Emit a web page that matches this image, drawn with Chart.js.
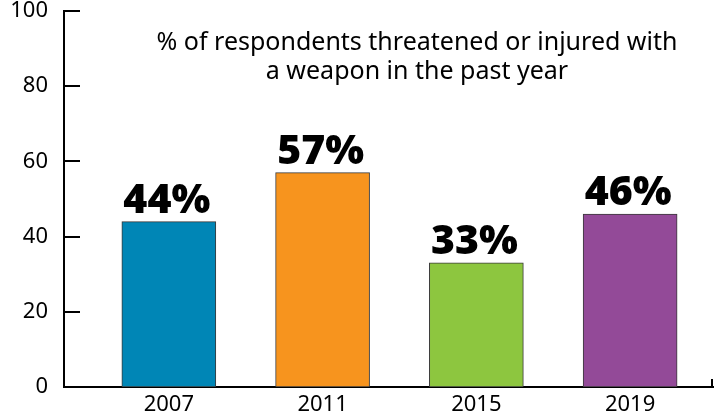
<!DOCTYPE html>
<html>
<head>
<meta charset="utf-8">
<script src="https://cdn.jsdelivr.net/npm/chart.js@4"></script>
<style>
html,body{margin:0;padding:0;background:#fff;}
#wrap{width:716px;height:416px;position:relative;}
</style>
</head>
<body>
<div id="wrap"><canvas id="c" width="716" height="416"></canvas></div>
<script>
const years = [2007, 2011, 2015, 2019];
const values = [44, 57, 33, 46];
const valueLabels = ["44%", "57%", "33%", "46%"];
const barColors = ["#0086B6", "#F7941E", "#8DC63F", "#934A98"];
const yTicks = [0, 20, 40, 60, 80, 100];
const titleLines = ["% of respondents threatened or injured with", "a weapon in the past year"];

const FONT = "'Noto Sans', 'Open Sans', sans-serif";

const decor = {
  id: 'decor',
  afterDatasetsDraw(chart) {
    const ctx = chart.ctx;
    const y = chart.scales.y, x = chart.scales.x;
    const ca = chart.chartArea;
    ctx.save();
    // inward y ticks
    ctx.strokeStyle = '#000';
    ctx.lineWidth = 2;
    yTicks.forEach(v => {
      const py = Math.round(y.getPixelForValue(v));
      ctx.beginPath();
      ctx.moveTo(ca.left, py);
      ctx.lineTo(ca.left + 16, py);
      ctx.stroke();
    });
    // right end tick on x axis
    ctx.beginPath();
    ctx.moveTo(ca.right - 1, ca.bottom + 1);
    ctx.lineTo(ca.right - 1, ca.bottom - 8);
    ctx.stroke();
    // value labels
    const meta = chart.getDatasetMeta(0);
    ctx.fillStyle = '#000';
    ctx.font = "900 41px 'Open Sans', 'Noto Sans', sans-serif";
    ctx.textAlign = 'center';
    ctx.textBaseline = 'alphabetic';
    meta.data.forEach((bar, i) => {
      ctx.fillText(valueLabels[i], bar.x - 2, bar.y - 9);
    });
    // title
    ctx.font = "25px " + FONT;
    ctx.textBaseline = 'middle';
    ctx.fillText(titleLines[0], 417, 43);
    ctx.fillText(titleLines[1], 417, 72);
    ctx.restore();
  }
};

new Chart(document.getElementById('c'), {
  type: 'bar',
  data: {
    datasets: [{
      data: years.map((yr, i) => ({x: yr, y: values[i]})),
      backgroundColor: barColors,
      borderColor: '#3a3a3a',
      borderWidth: 1,
      borderSkipped: false,
      barThickness: 94
    }]
  },
  options: {
    responsive: false,
    animation: false,
    devicePixelRatio: 1,
    layout: {padding: {top: 11, right: 3, left: 0, bottom: 0}},
    plugins: {legend: {display: false}, tooltip: {enabled: false}, title: {display: false}},
    scales: {
      x: {
        type: 'linear',
        offset: false,
        min: 2004.273,
        max: 2021.156,
        afterBuildTicks(scale) { scale.ticks = years.map(v => ({value: v})); },
        afterFit(scale) { scale.height = 29; scale.paddingLeft = 0; scale.paddingRight = 0; },
        grid: {display: false, drawTicks: false},
        border: {display: true, color: '#000', width: 2},
        ticks: {
          color: '#000',
          padding: 5,
          font: {family: FONT, size: 22},
          callback: v => String(v),
          autoSkip: false,
          maxRotation: 0
        }
      },
      y: {
        min: 0,
        max: 100,
        afterBuildTicks(scale) { scale.ticks = yTicks.map(v => ({value: v})); },
        afterFit(scale) { scale.width = 64; scale.paddingTop = 0; scale.paddingBottom = 0; },
        grid: {display: false, drawTicks: false},
        border: {display: true, color: '#000', width: 2},
        ticks: {
          color: '#000',
          padding: 16,
          font: {family: FONT, size: 22}
        }
      }
    }
  },
  plugins: [decor]
});
</script>
</body>
</html>
